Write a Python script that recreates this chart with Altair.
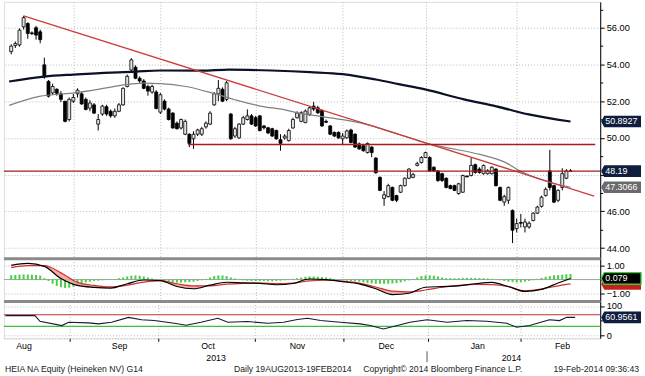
import altair as alt
import pandas as pd

FONT = "Liberation Sans"
W = 599
H_MAIN, H_MACD, H_RSI = 258, 43, 37
X_DOMAIN = [-0.54, 140.96]
MONTH_STARTS = [15, 36, 59, 80, 100, 122]
GRID = "#b9b9b9"

# ---------------- price candles (one per trading day) ----------------
opens = [54.7, 55.03, 55.06, 56.05, 56.23, 55.72, 56.0, 55.78, 53.98, 53.08,
         52.45, 52.65, 52.4, 52.0, 51.0, 52.0, 52.4, 52.4, 52.1, 51.62,
         51.8, 50.75, 51.3, 51.7, 51.45, 51.2, 51.45, 51.8, 52.8, 53.7,
         53.85, 53.25, 53.1, 52.8, 52.5, 52.5, 51.4, 52.0, 51.57, 51.35,
         50.8, 50.54, 50.2, 50.2, 49.95, 50.2, 50.2, 50.6, 50.75, 51.8,
         52.4, 52.65, 52.1, 51.3, 50.1, 50.0, 50.75, 51.0, 51.2, 51.1,
         51.2, 50.65, 50.55, 50.5, 50.4, 49.9, 50.0, 49.85, 50.54, 51.1,
         50.9, 50.83, 51.28, 51.73, 51.64, 51.5, 50.9, 50.65, 50.3, 50.3,
         49.95, 50.0, 50.43, 50.2, 49.67, 49.57, 49.2, 49.5, 48.9, 47.85,
         46.7, 46.8, 47.3, 46.86, 47.04, 47.4, 47.8, 47.85, 48.5, 48.66,
         48.93, 48.93, 48.4, 48.2, 48.05, 47.8, 47.4, 47.4, 46.97, 47.04,
         47.92, 47.95, 48.54, 48.3, 48.05, 48.05, 48.05, 48.3, 47.3, 46.5,
         46.6, 46.05, 45.06, 45.39, 45.15, 45.15, 45.5, 45.9, 46.27, 46.86,
         48.2, 47.4, 46.6, 47.3, 47.8, 48.2]
highs = [55.1, 55.25, 55.96, 56.65, 56.3, 55.8, 56.1, 55.9, 54.37, 53.15,
         52.95, 52.7, 52.55, 52.0, 52.2, 52.4, 52.7, 52.5, 52.2, 52.05,
         51.9, 51.3, 51.8, 51.8, 51.55, 51.6, 51.9, 52.75, 53.45, 54.34,
         53.95, 53.35, 53.2, 52.9, 52.9, 52.6, 52.45, 52.1, 51.65, 51.4,
         50.9, 51.05, 51.0, 50.25, 50.36, 50.5, 50.6, 50.9, 51.45, 52.5,
         53.15, 52.75, 53.1, 51.35, 50.6, 50.8, 51.2, 51.55, 51.3, 51.2,
         51.25, 50.7, 50.6, 50.55, 50.45, 50.2, 50.2, 50.5, 51.1, 51.45,
         51.45, 51.55, 51.7, 51.96, 51.75, 51.55, 51.0, 50.7, 50.35, 50.35,
         50.27, 50.45, 50.5, 50.25, 49.75, 49.65, 49.75, 49.55, 48.95, 47.9,
         47.1, 47.5, 47.35, 46.9, 47.45, 47.85, 48.35, 48.1, 48.7, 49.0,
         49.25, 49.0, 48.45, 48.25, 48.1, 47.85, 47.45, 47.45, 47.55, 48.0,
         47.95, 48.9, 48.6, 48.4, 48.55, 48.3, 48.45, 48.35, 47.35, 46.9,
         47.35, 46.1, 45.6, 45.86, 45.6, 45.45, 45.95, 46.3, 46.85, 47.3,
         49.35, 47.45, 47.2, 48.35, 48.3, 48.3]
lows = [54.55, 54.9, 54.97, 55.9, 55.4, 55.6, 55.35, 55.15, 53.22, 52.2,
        52.35, 52.3, 51.95, 50.85, 50.9, 51.9, 52.2, 51.8, 51.5, 51.45,
        51.3, 50.4, 51.2, 51.2, 51.1, 51.1, 51.4, 51.75, 52.75, 53.6,
        53.2, 53.0, 52.65, 52.3, 52.4, 51.55, 51.3, 51.5, 50.95, 50.5,
        50.45, 50.45, 50.15, 49.5, 49.4, 50.1, 50.1, 50.5, 50.7, 51.75,
        52.0, 51.95, 52.0, 49.9, 50.0, 49.95, 50.7, 50.95, 50.7, 50.6,
        50.35, 50.45, 50.2, 50.05, 49.9, 49.3, 49.9, 49.8, 50.5, 51.05,
        50.85, 50.8, 51.2, 51.46, 51.3, 50.6, 50.8, 50.15, 50.05, 49.95,
        49.64, 49.95, 49.7, 49.45, 49.35, 49.25, 49.15, 48.95, 48.05, 47.1,
        46.3, 46.75, 46.55, 46.5, 47.0, 47.35, 47.75, 47.8, 48.45, 48.6,
        48.9, 48.15, 48.15, 47.6, 47.6, 47.25, 47.2, 47.1, 46.9, 47.0,
        47.85, 47.9, 48.05, 48.05, 48.0, 48.0, 48.0, 47.35, 46.55, 46.3,
        46.4, 44.27, 44.85, 45.12, 44.85, 45.05, 45.45, 45.85, 46.2, 46.8,
        47.14, 46.45, 46.5, 47.14, 47.75, 48.15]
closes = [55.0, 55.14, 55.87, 56.55, 55.69, 55.68, 55.6, 55.35, 53.34, 52.27,
          52.8, 52.43, 52.1, 50.9, 52.1, 52.2, 52.6, 51.85, 51.55, 51.9,
          51.35, 51.0, 51.73, 51.3, 51.2, 51.45, 51.8, 52.7, 53.35, 54.25,
          53.25, 53.1, 52.7, 52.55, 52.8, 51.6, 52.35, 51.57, 51.0, 50.54,
          50.5, 51.0, 50.9, 49.7, 50.2, 50.43, 50.5, 50.8, 51.35, 52.4,
          52.7, 52.0, 53.0, 49.95, 50.5, 50.75, 51.1, 51.2, 50.75, 50.65,
          50.4, 50.55, 50.27, 50.1, 49.95, 49.7, 50.1, 50.4, 51.0, 51.35,
          51.37, 51.46, 51.64, 51.57, 51.37, 50.65, 50.85, 50.2, 50.1, 50.0,
          50.1, 50.38, 49.75, 49.5, 49.4, 49.3, 49.7, 49.2, 48.1, 47.14,
          46.9, 47.4, 46.6, 46.6, 47.4, 47.8, 48.3, 48.0, 48.6, 48.93,
          49.2, 48.2, 48.2, 47.68, 47.68, 47.3, 47.24, 47.14, 47.5, 47.95,
          47.88, 48.5, 48.12, 48.12, 48.5, 48.2, 48.4, 47.4, 46.6, 46.8,
          47.3, 44.97, 45.33, 45.35, 45.42, 45.35, 45.9, 46.23, 46.77, 47.2,
          47.3, 46.5, 47.14, 48.05, 48.2, 48.19]

# moving averages (vertices)
ma200_i = [-0.5, 8, 15, 30, 36, 46, 52.6, 62.8, 72.2, 80, 88, 93.5, 99.9, 109.3, 117.1, 124.9, 135]
ma200_v = [53.07, 53.34, 53.45, 53.61, 53.67, 53.66, 53.72, 53.67, 53.58, 53.47, 53.18, 52.93, 52.64, 52.1, 51.72, 51.28, 50.89]
ma50_i = [-0.5, 6.8, 14.8, 22.6, 27.3, 32, 36, 42.2, 48.6, 54, 60.4, 65.8, 69.4, 74.6, 80, 85.7, 93.5,
          101.3, 105.3, 113.1, 119.5, 122.5, 128.9, 135]
ma50_v = [51.77, 52.26, 52.44, 52.71, 52.89, 52.98, 52.96, 52.8, 52.44, 52.08, 51.72, 51.54, 51.35, 51.17,
          50.99, 50.74, 50.2, 49.64, 49.46, 49.1, 48.64, 48.23, 47.65, 47.31]
trend_i = [3, 140.7]
trend_v = [56.65, 46.83]
level_full = 48.19
level_seg_i = [42.7, 140.96]
level_seg_v = 49.64

main_label_v = [50.8927, 48.19, 47.3066]
main_label_t = ["50.8927", "48.19", "47.3066"]
main_label_bg = ["#0f1d3e", "#0f1d3e", "#6a6a6a"]

# MACD panel
macd_i = [0, 4, 8, 12, 16, 20, 24, 28, 32, 36, 40, 44, 48, 52, 56, 60, 64, 68, 72, 76, 80, 84, 88, 92,
          96, 100, 104, 108, 112, 116, 120, 124, 128, 132, 135]
macd_v = [1.02, 1.16, 0.95, 0.08, -0.42, -0.56, -0.61, -0.3, -0.03, -0.07, -0.5, -0.66, -0.4, -0.19,
          -0.24, -0.27, -0.37, -0.28, 0.04, 0.0, -0.15, -0.31, -0.66, -1.08, -0.98, -0.55, -0.5, -0.45,
          -0.3, -0.2, -0.5, -0.85, -0.7, -0.25, 0.079]
signal_v = [0.86, 1.0, 1.0, 0.48, -0.2, -0.42, -0.53, -0.4, -0.18, -0.07, -0.3, -0.45, -0.45, -0.33,
            -0.27, -0.25, -0.29, -0.25, -0.1, -0.05, -0.12, -0.25, -0.53, -0.83, -0.88, -0.75, -0.55,
            -0.42, -0.34, -0.36, -0.5, -0.8, -0.68, -0.45, -0.31]
hist_v = [0.30, 0.33, 0.35, 0.36, 0.36, 0.35, 0.33, 0.28,
          0.1, -0.1,
          -0.3, -0.45, -0.55, -0.6, -0.58, -0.5, -0.4, -0.3,
          -0.2, -0.15, -0.1, -0.08, -0.05, -0.03, 0.0, 0.05, 0.1, 0.15,
          0.22, 0.28, 0.3, 0.28, 0.22, 0.15,
          0.08, 0.02, -0.05, -0.1, -0.15,
          -0.2, -0.22, -0.22, -0.2, -0.18, -0.15, -0.1, -0.05,
          0.05, 0.15, 0.25, 0.3, 0.3, 0.25, 0.15, 0.08,
          0.0, -0.05, -0.08, -0.1, -0.1, -0.1, -0.1, -0.12, -0.12, -0.1, -0.08, -0.05, 0.0, 0.05,
          0.1, 0.15, 0.2, 0.22, 0.22, 0.2, 0.18, 0.15, 0.1, 0.05, 0.0,
          -0.05, -0.08, -0.1, -0.12, -0.15, -0.2,
          -0.25, -0.28, -0.3, -0.3, -0.3, -0.3, -0.28, -0.25, -0.2, -0.12, -0.05,
          0.05, 0.15, 0.25, 0.3, 0.3, 0.28, 0.22, 0.15,
          0.1, 0.1, 0.1, 0.1, 0.12, 0.12, 0.12, 0.12, 0.1, 0.1, 0.08, 0.05, 0.02,
          -0.05, -0.1, -0.15, -0.18, -0.2, -0.2, -0.15, -0.1, -0.05,
          0.05, 0.12, 0.2, 0.25, 0.3, 0.32, 0.35, 0.38, 0.4]
macd_last, signal_last = 0.079, -0.31

# RSI panel
rsi_i = [-0.2, 6.8, 8, 13.2, 14.8, 19.5, 21.9, 25, 29, 32.1, 35.1, 39.9, 42.7, 46.2, 50.2, 52.6, 57.3,
         62.1, 65.8, 69.1, 71.5, 74.6, 79.3, 84, 86.4, 89.5, 92.8, 95.8, 99.9, 104.6, 109.3, 114, 118.8,
         121.1, 124.2, 128.9, 131.3, 133, 135]
rsi_v = [67, 67, 47.6, 32.8, 44, 42, 38.6, 44, 61, 53, 50, 40.7, 33.8, 44, 58, 44, 46.6, 40.7, 44, 53.4,
         58, 50, 44, 38.6, 32.8, 21, 32.8, 44, 53, 44, 50, 47.6, 40.7, 27, 32.8, 53, 50, 61, 60.96]
rsi_last = 60.9561

# axis text
month_names = ["Aug", "Sep", "Oct", "Nov", "Dec", "Jan", "Feb"]
month_centers = [4.2, 26.9, 47.9, 69.1, 90.2, 111.9, 132.0]
year_names = ["2013", "2014"]
year_centers = [49.8, 119.9]
year_split = 99.86
footer_texts = ["HEIA NA Equity (Heineken NV) G14", "Daily 19AUG2013-19FEB2014",
                "Copyright\u00a9 2014 Bloomberg Finance L.P.", "19-Feb-2014 09:36:43"]
footer_x = [1, 231, 361, 638]
footer_align = ["left", "left", "left", "right"]

# ---------------- data frames ----------------
candles = pd.DataFrame({"i": list(range(len(opens))), "o": opens, "h": highs, "l": lows, "c": closes})
ma200 = pd.DataFrame({"i": ma200_i, "v": ma200_v})
ma50 = pd.DataFrame({"i": ma50_i, "v": ma50_v})
trend = pd.DataFrame({"i": trend_i, "v": trend_v})
seg = pd.DataFrame({"i": [level_seg_i[0]], "i2": [level_seg_i[1]], "v": [level_seg_v]})
main_lab = pd.DataFrame({"v": main_label_v, "t": main_label_t, "bg": main_label_bg})
macd_df = pd.DataFrame({"i": macd_i, "m": macd_v, "s": signal_v})
hist_df = pd.DataFrame({"i": list(range(len(hist_v))), "h": hist_v})
rsi_df = pd.DataFrame({"i": rsi_i, "r": rsi_v})
months = pd.DataFrame({"c": month_centers, "t": month_names})
years = pd.DataFrame({"c": year_centers, "t": year_names})

xscale = alt.Scale(domain=X_DOMAIN, nice=False, zero=False)
BOX = "M-1,0L-0.85,-0.29L1,-0.29L1,0.29L-0.85,0.29Z"
BOX_SIZE = 1600
LX = W + 21
TX = W + 5
LBL = 9


def x_axis(bottom=False):
    if bottom:
        return alt.Axis(values=MONTH_STARTS, grid=True, gridDash=[1, 2], gridColor=GRID, labels=False,
                        ticks=True, tickSize=3, tickColor="black", domain=True, domainDash=[1, 2],
                        domainColor=GRID, title=None)
    return alt.Axis(values=MONTH_STARTS, grid=True, gridDash=[1, 2], gridColor=GRID, labels=False,
                    ticks=False, domain=False, title=None)


def make_x(axis):
    def fx(field):
        return alt.X(field, type="quantitative", scale=xscale, axis=axis)
    return fx


# ---------------- main panel ----------------
X1 = make_x(x_axis())
y1_scale = alt.Scale(domain=[43.42, 57.41], nice=False, zero=False)
y1_axis = alt.Axis(orient="right", values=list(range(44, 58)),
                   labelExpr="datum.value % 2 == 0 && datum.value < 57 && datum.value != 48 ? format(datum.value, '.2f') : ''",
                   tickSize={"condition": {"test": "datum.value % 2 == 0", "value": 4}, "value": 2.5},
                   grid=True, gridDash=[1, 2], gridColor=GRID,
                   gridOpacity={"condition": {"test": "datum.value % 2 == 0", "value": 1}, "value": 0},
                   domainColor="black", tickColor="black", labelColor="black", labelFont=FONT,
                   labelFontSize=9.3, labelPadding=2, labelOverlap=False, title=None)


def Y1(field):
    return alt.Y(field, type="quantitative", scale=y1_scale, axis=y1_axis)


wicks = alt.Chart(candles).mark_rule(color="black", strokeWidth=1).encode(x=X1("i"), y=Y1("l"), y2=alt.Y2("h"))
bodies = alt.Chart(candles).mark_bar(width=3, stroke="black", strokeWidth=0.8).encode(
    x=X1("i"), y=Y1("o"), y2=alt.Y2("c"),
    color=alt.condition("datum.c >= datum.o", alt.value("#e4e4e4"), alt.value("#000000")))
l200 = alt.Chart(ma200).mark_line(color="#0b1128", strokeWidth=2.2, interpolate="monotone").encode(x=X1("i"), y=Y1("v"))
l50 = alt.Chart(ma50).mark_line(color="#808080", strokeWidth=1.2, interpolate="monotone").encode(x=X1("i"), y=Y1("v"))
ltr = alt.Chart(trend).mark_line(color="#cc3d3d", strokeWidth=1.3).encode(x=X1("i"), y=Y1("v"))
lvl_full = alt.Chart(pd.DataFrame({"v": [level_full]})).mark_rule(color="#a51e1e", strokeWidth=1.4).encode(y=Y1("v"))
lvl_seg = alt.Chart(seg).mark_rule(color="#a51e1e", strokeWidth=1.4).encode(x=X1("i"), x2=alt.X2("i2"), y=Y1("v"))
mbox = alt.Chart(main_lab).mark_point(shape=BOX, size=BOX_SIZE, filled=True, opacity=1, strokeWidth=0).encode(
    x=alt.value(LX), y=Y1("v"), color=alt.Color("bg:N", scale=None))
mtxt = alt.Chart(main_lab).mark_text(align="left", baseline="middle", font=FONT, fontSize=LBL, color="white").encode(
    x=alt.value(TX), y=Y1("v"), text="t:N")
main = alt.layer(wicks, bodies, l50, l200, ltr, lvl_full, lvl_seg, mbox, mtxt).properties(width=W, height=H_MAIN)

# ---------------- MACD panel ----------------
X2 = make_x(x_axis())
y2_scale = alt.Scale(domain=[-1.571, 1.5], nice=False, zero=False)
y2_axis = alt.Axis(orient="right", values=[-1, 0, 1],
                   labelExpr="datum.value == 0 ? '' : format(datum.value, '.2f')",
                   grid=True, gridDash=[1, 2], gridColor=GRID,
                   gridOpacity={"condition": {"test": "datum.value == 0", "value": 0}, "value": 1},
                   tickSize=4, domainColor="black", tickColor="black", labelColor="black", labelFont=FONT,
                   labelFontSize=9.3, labelPadding=2, labelOverlap=False, title=None)


def Y2(field):
    return alt.Y(field, type="quantitative", scale=y2_scale, axis=y2_axis)


sep2 = alt.Chart(pd.DataFrame({"v": [1.5]})).mark_rule(color="#8a8a8a", strokeWidth=3).encode(y=Y2("v"))
zero2 = alt.Chart(pd.DataFrame({"v": [0]})).mark_rule(color="#a0a0a0", strokeWidth=1).encode(y=Y2("v"))
hist = alt.Chart(hist_df).mark_bar(width=2, color="#44d044").encode(x=X2("i"), y=Y2("h"), y2=alt.datum(0))
fill = alt.Chart(macd_df).transform_calculate(top="max(datum.m, datum.s)").mark_area(
    color="#f3a3a3", opacity=0.9, interpolate="monotone").encode(x=X2("i"), y=Y2("m"), y2=alt.Y2("top"))
lm = alt.Chart(macd_df).mark_line(color="black", strokeWidth=1.2, interpolate="monotone").encode(x=X2("i"), y=Y2("m"))
ls = alt.Chart(macd_df).mark_line(color="#d03030", strokeWidth=1.2, interpolate="monotone").encode(x=X2("i"), y=Y2("s"))
sbox = alt.Chart(pd.DataFrame({"v": [signal_last]}))
sb = sbox.mark_point(shape=BOX, size=BOX_SIZE, filled=True, opacity=1, color="#c81e1e", strokeWidth=0).encode(
    x=alt.value(LX), y=Y2("v"))
mbox2 = alt.Chart(pd.DataFrame({"v": [macd_last], "t": ["%.3f" % macd_last]}))
gb = mbox2.mark_point(shape=BOX, size=BOX_SIZE, filled=True, opacity=1, fill="black", stroke="#3cc83c",
                      strokeWidth=1.3).encode(x=alt.value(LX), y=Y2("v"))
gt = mbox2.mark_text(align="left", baseline="middle", font=FONT, fontSize=LBL, color="white").encode(
    x=alt.value(TX), y=Y2("v"), text="t:N")
macd_panel = alt.layer(zero2, hist, fill, ls, lm, sep2, sb, gb, gt).properties(width=W, height=H_MACD)

# ---------------- RSI panel ----------------
X3 = make_x(x_axis(bottom=True))
y3_scale = alt.Scale(domain=[-10.9, 115.6], nice=False, zero=False)
y3_axis = alt.Axis(orient="right", values=[0, 50, 100],
                   labelExpr="datum.value == 50 ? '' : format(datum.value, 'd')",
                   grid=True, gridDash=[1, 2], gridColor=GRID,
                   gridOpacity={"condition": {"test": "datum.value == 50", "value": 0}, "value": 1},
                   tickSize=4, domainColor="black", tickColor="black", labelColor="black", labelFont=FONT,
                   labelFontSize=9.3, labelPadding=2, labelOverlap=False, title=None)


def Y3(field):
    return alt.Y(field, type="quantitative", scale=y3_scale, axis=y3_axis)


sep3 = alt.Chart(pd.DataFrame({"v": [115.6]})).mark_rule(color="#8a8a8a", strokeWidth=3).encode(y=Y3("v"))
r70 = alt.Chart(pd.DataFrame({"v": [70]})).mark_rule(color="#c03030", strokeWidth=1.2).encode(y=Y3("v"))
r30 = alt.Chart(pd.DataFrame({"v": [30]})).mark_rule(color="#3cbf3c", strokeWidth=1.2).encode(y=Y3("v"))
lr = alt.Chart(rsi_df).mark_line(color="#151a30", strokeWidth=1.1).encode(x=X3("i"), y=Y3("r"))
rbox = alt.Chart(pd.DataFrame({"v": [rsi_last], "t": ["%.4f" % rsi_last]}))
rb = rbox.mark_point(shape=BOX, size=BOX_SIZE, filled=True, opacity=1, color="#0f1d3e", strokeWidth=0).encode(
    x=alt.value(LX), y=Y3("v"))
rt = rbox.mark_text(align="left", baseline="middle", font=FONT, fontSize=LBL, color="white").encode(
    x=alt.value(TX), y=Y3("v"), text="t:N")
mon = alt.Chart(months).mark_text(align="center", baseline="middle", font=FONT, fontSize=8.8, color="black").encode(
    x=X3("c"), y=alt.value(H_RSI + 8), text="t:N")
yr = alt.Chart(years).mark_text(align="center", baseline="middle", font=FONT, fontSize=8.8, color="black").encode(
    x=X3("c"), y=alt.value(H_RSI + 20), text="t:N")
ysep = alt.Chart(pd.DataFrame({"c": [year_split]})).mark_rule(color="#555555", strokeWidth=1).encode(
    x=X3("c"), y=alt.value(H_RSI + 13), y2=alt.value(H_RSI + 24))
foot_layers = []
for txt, fx, al in zip(footer_texts, footer_x, footer_align):
    foot_layers.append(
        alt.Chart(pd.DataFrame({"t": [txt]})).mark_text(align=al, baseline="middle", font=FONT, fontSize=8.7,
                                                       color="#1a1a1a").encode(
            x=alt.value(fx), y=alt.value(H_RSI + 30.5), text="t:N"))
rsi_panel = alt.layer(r70, r30, lr, sep3, rb, rt, mon, yr, ysep, *foot_layers).properties(width=W, height=H_RSI)

chart = alt.vconcat(main, macd_panel, rsi_panel, spacing=0, bounds="flush").properties(
    padding={"left": 2, "top": 0, "right": 0, "bottom": 0}
).configure_view(stroke=None).configure(font=FONT, background="white")

chart.save("out.html", embed_options={"renderer": "svg", "actions": False})
